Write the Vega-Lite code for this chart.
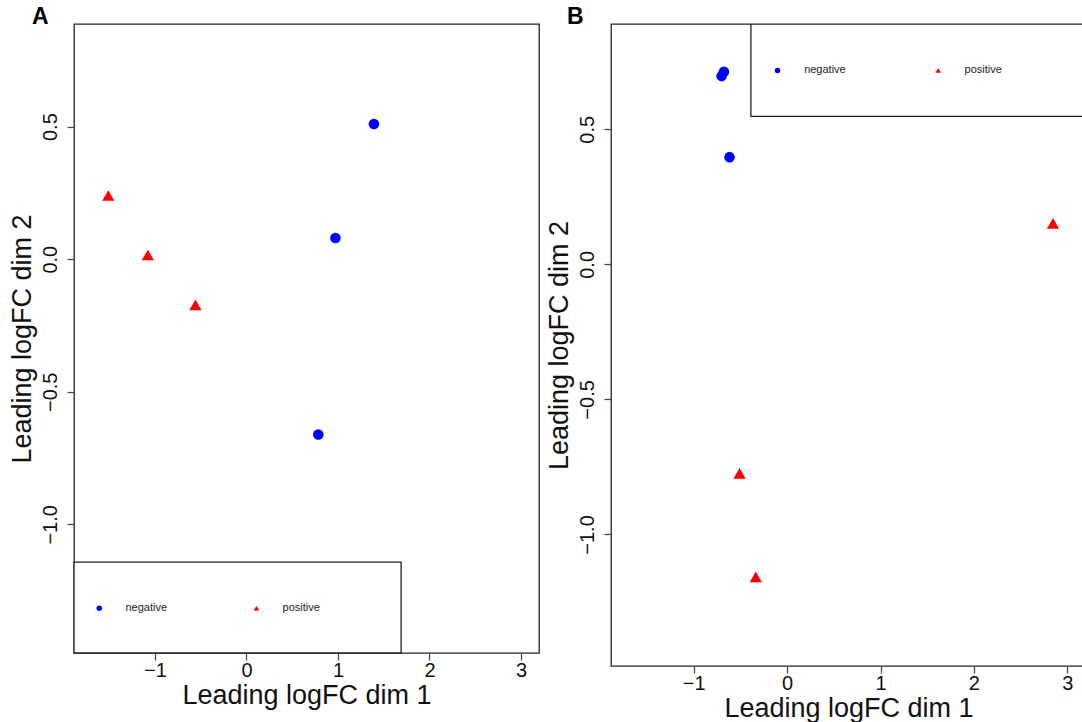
{
  "$schema": "https://vega.github.io/schema/vega-lite/v6.json",
  "background": "white",
  "padding": {"left": 7, "top": 5, "right": 0, "bottom": 0},
  "bounds": "flush",
  "spacing": 72,
  "config": {
    "font": "Liberation Sans",
    "view": {"stroke": "#222222", "strokeWidth": 1.3},
    "axis": {
      "grid": false,
      "domain": false,
      "tickColor": "#444444",
      "tickSize": 7,
      "tickWidth": 1.2,
      "labelFontSize": 20,
      "labelColor": "#111111",
      "titleFontSize": 27,
      "titleFontWeight": "normal",
      "titleColor": "#111111"
    }
  },
  "datasets": {
    "ptsA": [
      {"x": 1.393, "y": 0.51, "group": "negative"},
      {"x": 0.972, "y": 0.08, "group": "negative"},
      {"x": 0.785, "y": -0.661, "group": "negative"},
      {"x": -1.51, "y": 0.24, "group": "positive"},
      {"x": -1.078, "y": 0.016, "group": "positive"},
      {"x": -0.558, "y": -0.172, "group": "positive"}
    ],
    "ptsB": [
      {"x": -0.677, "y": 0.713, "group": "negative"},
      {"x": -0.702, "y": 0.697, "group": "negative"},
      {"x": -0.617, "y": 0.397, "group": "negative"},
      {"x": 2.847, "y": 0.152, "group": "positive"},
      {"x": -0.51, "y": -0.774, "group": "positive"},
      {"x": -0.336, "y": -1.157, "group": "positive"}
    ],
    "boxA": [{"x": -1.885, "x2": 1.69, "y": -1.485, "y2": -1.142}],
    "boxB": [{"x": -0.388, "x2": 3.3, "y": 0.548, "y2": 0.89}],
    "legA": [
      {"x": -1.609, "y": -1.316, "group": "negative", "tx": -1.323, "label": "negative"},
      {"x": 0.109, "y": -1.316, "group": "positive", "tx": 0.394, "label": "positive"}
    ],
    "legB": [
      {"x": -0.103, "y": 0.718, "group": "negative", "tx": 0.182, "label": "negative"},
      {"x": 1.618, "y": 0.718, "group": "positive", "tx": 1.9, "label": "positive"}
    ]
  },
  "hconcat": [
    {
      "width": 465,
      "height": 629,
      "title": {"text": "A", "anchor": "start", "frame": "group", "dx": -42, "dy": 20, "offset": -3, "baseline": "alphabetic", "fontSize": 23, "fontWeight": "bold", "color": "#000000"},
      "encoding": {
        "x": {"field": "x", "type": "quantitative", "scale": {"domain": [-1.885, 3.197], "nice": false, "zero": false}, "axis": {"title": "Leading logFC dim 1", "values": [-1, 0, 1, 2, 3], "labelPadding": 0, "titlePadding": 2}},
        "y": {"field": "y", "type": "quantitative", "scale": {"domain": [-1.485, 0.887], "nice": false, "zero": false}, "axis": {"title": "Leading logFC dim 2", "values": [-1, -0.5, 0, 0.5], "format": ".1f", "labelAngle": -90, "labelAlign": "center", "labelBaseline": "bottom", "labelPadding": 7, "titlePadding": 4}}
      },
      "layer": [
        {
          "data": {"name": "boxA"},
          "mark": {"type": "rect", "fill": "white", "stroke": "#222222", "strokeWidth": 1.3},
          "encoding": {"x2": {"field": "x2"}, "y2": {"field": "y2"}}
        },
        {
          "data": {"name": "ptsA"},
          "mark": {"type": "point", "filled": true, "opacity": 1},
          "encoding": {
            "color": {"field": "group", "type": "nominal", "scale": {"domain": ["negative", "positive"], "range": ["#0000FF", "#FF0000"]}, "legend": null},
            "shape": {"field": "group", "type": "nominal", "scale": {"domain": ["negative", "positive"], "range": ["circle", "triangle-up"]}, "legend": null},
            "size": {"field": "group", "type": "ordinal", "scale": {"domain": ["negative", "positive"], "range": [112, 150]}, "legend": null}
          }
        },
        {
          "data": {"name": "legA"},
          "mark": {"type": "point", "filled": true, "opacity": 1, "size": 30},
          "encoding": {
            "color": {"field": "group", "type": "nominal", "scale": {"domain": ["negative", "positive"], "range": ["#0000FF", "#FF0000"]}, "legend": null},
            "shape": {"field": "group", "type": "nominal", "scale": {"domain": ["negative", "positive"], "range": ["circle", "triangle-up"]}, "legend": null}
          }
        },
        {
          "data": {"name": "legA"},
          "mark": {"type": "text", "align": "left", "baseline": "middle", "fontSize": 11, "color": "#222222"},
          "encoding": {"x": {"field": "tx", "type": "quantitative"}, "text": {"field": "label"}}
        }
      ]
    },
    {
      "width": 475,
      "height": 642,
      "title": {"text": "B", "anchor": "start", "frame": "group", "dx": -44, "dy": 20, "offset": -3, "baseline": "alphabetic", "fontSize": 23, "fontWeight": "bold", "color": "#000000"},
      "encoding": {
        "x": {"field": "x", "type": "quantitative", "scale": {"domain": [-1.886, 3.2], "nice": false, "zero": false}, "axis": {"title": "Leading logFC dim 1", "values": [-1, 0, 1, 2, 3], "labelPadding": 0, "titlePadding": 2}},
        "y": {"field": "y", "type": "quantitative", "scale": {"domain": [-1.487, 0.89], "nice": false, "zero": false}, "axis": {"title": "Leading logFC dim 2", "values": [-1, -0.5, 0, 0.5], "format": ".1f", "labelAngle": -90, "labelAlign": "center", "labelBaseline": "bottom", "labelPadding": 7, "titlePadding": 4}}
      },
      "layer": [
        {
          "data": {"name": "boxB"},
          "mark": {"type": "rect", "fill": "white", "stroke": "#222222", "strokeWidth": 1.3, "clip": true},
          "encoding": {"x2": {"field": "x2"}, "y2": {"field": "y2"}}
        },
        {
          "data": {"name": "ptsB"},
          "mark": {"type": "point", "filled": true, "opacity": 1},
          "encoding": {
            "color": {"field": "group", "type": "nominal", "scale": {"domain": ["negative", "positive"], "range": ["#0000FF", "#FF0000"]}, "legend": null},
            "shape": {"field": "group", "type": "nominal", "scale": {"domain": ["negative", "positive"], "range": ["circle", "triangle-up"]}, "legend": null},
            "size": {"field": "group", "type": "ordinal", "scale": {"domain": ["negative", "positive"], "range": [112, 150]}, "legend": null}
          }
        },
        {
          "data": {"name": "legB"},
          "mark": {"type": "point", "filled": true, "opacity": 1, "size": 30},
          "encoding": {
            "color": {"field": "group", "type": "nominal", "scale": {"domain": ["negative", "positive"], "range": ["#0000FF", "#FF0000"]}, "legend": null},
            "shape": {"field": "group", "type": "nominal", "scale": {"domain": ["negative", "positive"], "range": ["circle", "triangle-up"]}, "legend": null}
          }
        },
        {
          "data": {"name": "legB"},
          "mark": {"type": "text", "align": "left", "baseline": "middle", "fontSize": 11, "color": "#222222"},
          "encoding": {"x": {"field": "tx", "type": "quantitative"}, "text": {"field": "label"}}
        }
      ]
    }
  ]
}
